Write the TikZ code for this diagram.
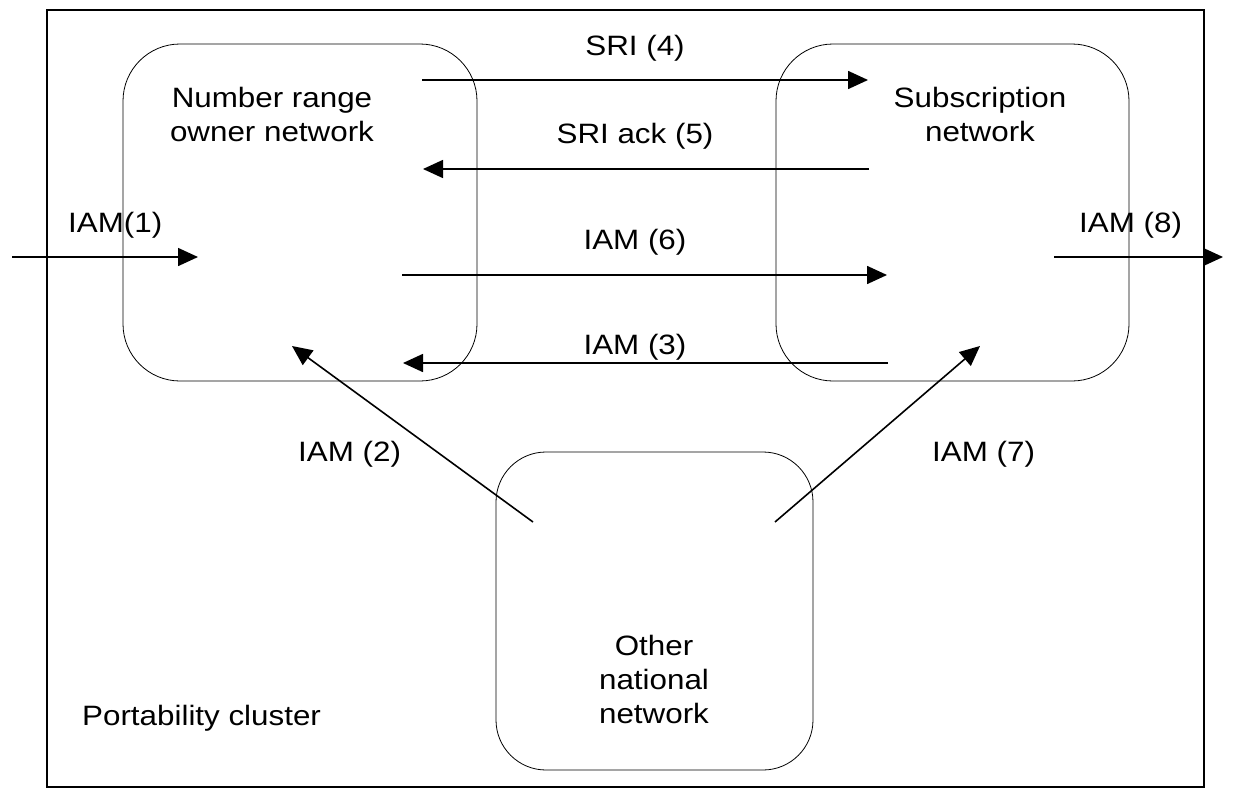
\documentclass[tikz,border=0pt]{standalone}
\usepackage{fontspec}
\setmainfont{Liberation Sans}[FakeStretch=1.12]
\usetikzlibrary{arrows.meta}
\begin{document}
\begin{tikzpicture}[x=1pt,y=-1pt,
  every node/.style={font=\fontsize{28}{34}\selectfont, inner sep=0pt},
  netbox/.style={draw, line width=0.8pt, rounded corners=57pt},
  lbl/.style={anchor=base, align=center},
  msg/.style={-{Triangle[length=20pt,width=18pt]}, line width=1.6pt}]
\useasboundingbox (0,0) rectangle (1247,803);
% outer cluster
\node[draw, line width=2pt, minimum width=1157pt, minimum height=777pt] (cluster) at (625.5,398.5) {};
% networks
\node[netbox, minimum width=354pt, minimum height=337pt] (owner) at (300,212.5) {};
\node[netbox, minimum width=353pt, minimum height=337pt] (sub) at (952.5,212.5) {};
\node[netbox, rounded corners=50pt, minimum width=317pt, minimum height=318pt] (other) at (654.5,611) {};
% box texts (base = last line)
\node[lbl] (ownertxt) at (272,141) {Number range\\owner network};
\node[lbl] (subtxt) at (980,141) {Subscription\\network};
\node[lbl] (othertxt) at (654,723) {Other\\national\\network};
\node[anchor=base west] (clustertxt) at (82,725) {Portability cluster};
% endpoints
\coordinate (c4a) at (422,80);  \coordinate (c4b) at (868,80);
\coordinate (c5a) at (869,169); \coordinate (c5b) at (423,169);
\coordinate (c6a) at (402,275); \coordinate (c6b) at (887,275);
\coordinate (c3a) at (888,363); \coordinate (c3b) at (403,363);
\coordinate (c1a) at (12,257);  \coordinate (c1b) at (198,257);
\coordinate (c8a) at (1054,257); \coordinate (c8b) at (1223,257);
\coordinate (c2a) at (533,522); \coordinate (c2b) at (292,346);
\coordinate (c7a) at (775,522); \coordinate (c7b) at (980,346);
% messages
\draw[msg] (c4a) -- (c4b);
\draw[msg] (c5a) -- (c5b);
\draw[msg] (c6a) -- (c6b);
\draw[msg] (c3a) -- (c3b);
\draw[msg] (c1a) -- (c1b);
\draw[msg] (c8a) -- (c8b);
\draw[msg] (c2a) -- (c2b);
\draw[msg] (c7a) -- (c7b);
% message labels
\node[lbl] (l4) at (635,55) {SRI (4)};
\node[lbl] (l5) at (635,143) {SRI ack (5)};
\node[lbl] (l6) at (635,249) {IAM (6)};
\node[lbl] (l3) at (635,354) {IAM (3)};
\node[anchor=base west] (l1) at (68,232) {IAM(1)};
\node[anchor=base west] (l8) at (1079,232) {IAM (8)};
\node[anchor=base west] (l2) at (298,461) {IAM (2)};
\node[anchor=base west] (l7) at (932,461) {IAM (7)};
\end{tikzpicture}
\end{document}
